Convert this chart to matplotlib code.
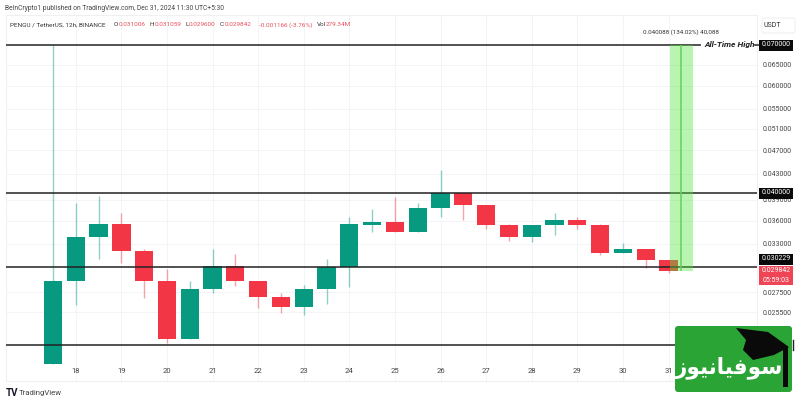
import matplotlib
matplotlib.use('Agg')
import matplotlib.pyplot as plt
from matplotlib.patches import FancyBboxPatch, Polygon, Rectangle

plt.rcParams['font.family'] = ['Roboto', 'DejaVu Sans']

# candles, 12h each, first one is the second half of the 17th
opens = [0.02095, 0.02868, 0.03383, 0.03558, 0.03209, 0.02863, 0.02303, 0.02786, 0.03041, 0.02863,
         0.02700, 0.02599, 0.02786, 0.03026, 0.03548, 0.03589, 0.03456, 0.03775, 0.03995, 0.03823,
         0.03540, 0.03391, 0.03544, 0.03612, 0.03540, 0.03192, 0.03233, 0.031006]
highs = [0.07000, 0.03856, 0.03955, 0.03709, 0.03237, 0.03001, 0.02868, 0.03237, 0.03174, 0.02863,
         0.02741, 0.02825, 0.03117, 0.03649, 0.03765, 0.03944, 0.03856, 0.04363, 0.04000, 0.03823,
         0.03562, 0.03544, 0.03713, 0.03649, 0.03554, 0.03315, 0.03240, 0.031059]
lows = [0.02095, 0.02619, 0.03117, 0.03070, 0.02689, 0.02269, 0.02303, 0.02741, 0.02814, 0.02593,
        0.02544, 0.02522, 0.02629, 0.02807, 0.03456, 0.03456, 0.03456, 0.03657, 0.03612, 0.03495,
        0.03332, 0.03324, 0.03413, 0.03487, 0.03161, 0.03192, 0.03009, 0.029600]
closes = [0.02868, 0.03383, 0.03558, 0.03209, 0.02863, 0.02303, 0.02786, 0.03041, 0.02868, 0.02700,
          0.02599, 0.02786, 0.03026, 0.03558, 0.03589, 0.03456, 0.03775, 0.03995, 0.03823, 0.03540,
          0.03391, 0.03544, 0.03612, 0.03540, 0.03192, 0.03233, 0.03101, 0.029842]

day_labels = ['18', '19', '20', '21', '22', '23', '24', '25', '26', '27', '28', '29', '30', '31']
day_ticks = [1, 3, 5, 7, 9, 11, 13, 15, 17, 19, 21, 23, 25, 27]
price_ticks = [0.065, 0.06, 0.055, 0.051, 0.047, 0.043, 0.039, 0.036, 0.033, 0.0275, 0.0255]
level_lines = [0.07, 0.04, 0.030229, 0.0225]
range_low = 0.029842
range_high = 0.07

GREEN = '#089981'
RED = '#F23645'

fig = plt.figure(figsize=(8, 4), dpi=100)
fig.patch.set_facecolor('white')

# axes sits on the chart panel, limits worked out from the pixel positions of the levels
ax = fig.add_axes([5.5 / 800, 1 - 381 / 400, (757 - 5.5) / 800, (381 - 15) / 400])
ax.set_yscale('log')
ax.set_xlim(-2.083, 30.88)
ax.set_ylim(0.01965, 0.07843)

ax.yaxis.tick_right()
ax.set_yticks(price_ticks)
ax.set_yticklabels(['%.6f' % p for p in price_ticks], fontsize=5.0, color='#444444')
ax.minorticks_off()
ax.set_xticks(day_ticks)
ax.set_xticklabels(day_labels, fontsize=5.5, color='#444444')
ax.tick_params(axis='both', length=0)
ax.tick_params(axis='y', pad=4)
ax.tick_params(axis='x', pad=-9.5)
ax.grid(True, color='#f2f4f8', linewidth=0.7)
ax.set_axisbelow(True)
for s in ax.spines.values():
    s.set_color('#eef0f3')
    s.set_linewidth(0.8)

# candles
for i in range(len(opens)):
    col = GREEN if closes[i] >= opens[i] else RED
    ax.vlines(i, lows[i], highs[i], color=col, linewidth=1.0, alpha=0.45, zorder=2)
    ax.bar(i, abs(closes[i] - opens[i]), bottom=min(opens[i], closes[i]), width=0.8, color=col, zorder=3)

# support / resistance levels
ax.axhline(level_lines[0], xmax=(700 - 5.5) / 751.5, color='#444444', linewidth=1.3, zorder=4)
for lv in level_lines[1:]:
    ax.axhline(lv, color='#222222', linewidth=1.1, zorder=4)

# long position box
ax.bar(27.56, range_high - range_low, bottom=range_low, width=1.0, color='#50e63e', alpha=0.4, zorder=5)
ax.vlines(27.56, range_low, range_high, color='#5fd35a', linewidth=1.1, zorder=6)

# everything else is placed in pixels on a see-through overlay
ov = fig.add_axes([0, 0, 1, 1], facecolor='none')
ov.set_xlim(0, 800)
ov.set_ylim(400, 0)
ov.axis('off')

ov.text(5, 8, 'BeInCrypto1 published on TradingView.com, Dec 31, 2024 11:30 UTC+5:30',
        fontsize=4.8, color='#444444', va='center')

hdr_y = 25
hdr_red = '#e8505f'
hdr_fs = 4.6
ov.text(10, hdr_y, 'PENGU / TetherUS, 12h, BINANCE', fontsize=hdr_fs, color='#333333', va='center')
for lab, lx, val, vx in [('O', 114, '0.031006', 119), ('H', 150, '0.031059', 155),
                         ('L', 185, '0.029600', 189), ('C', 220, '0.029842', 225)]:
    ov.text(lx, hdr_y, lab, fontsize=hdr_fs, color='#333333', va='center')
    ov.text(vx, hdr_y, val, fontsize=hdr_fs, color=hdr_red, va='center')
ov.text(259, hdr_y, '-0.001166 (-3.76%)', fontsize=hdr_fs, color=hdr_red, va='center')
ov.text(317, hdr_y, 'Vol', fontsize=hdr_fs, color='#333333', va='center')
ov.text(326, hdr_y, '279.34M', fontsize=hdr_fs, color=hdr_red, va='center')

ov.text(681, 32, '0.040088 (134.02%) 40,088', fontsize=4.5, color='#333333', ha='center', va='center')
ov.text(704, 45, 'All-Time High', fontsize=6.0, color='#222222', style='italic', weight='bold', va='center')
ov.plot([755, 758], [45, 45], color='#333333', linewidth=1.2)

# USDT box
ov.add_patch(FancyBboxPatch((762, 18), 33, 15, boxstyle='round,pad=0,rounding_size=2',
                            facecolor='white', edgecolor='#eeeeee', linewidth=0.7))
ov.text(772, 25.5, 'USDT', fontsize=5.0, color='#333333', ha='center', va='center')

# price labels
for txt, yy in [('0.070000', 45), ('0.040000', 193), ('0.030229', 259)]:
    ov.add_patch(Rectangle((759, yy - 5.5), 34, 11, facecolor='#0a0a0a', edgecolor='none', zorder=7))
    ov.text(776, yy, txt, fontsize=5.0, color='white', ha='center', va='center', zorder=8)
ov.add_patch(Rectangle((759, 266), 34, 19, facecolor='#ef4455', edgecolor='none', zorder=7))
ov.text(776, 271, '0.029842', fontsize=5.0, color='white', ha='center', va='center', zorder=8)
ov.text(776, 280, '05:59:03', fontsize=5.0, color='white', ha='center', va='center', zorder=8)

# TradingView mark
ov.text(6, 393.5, 'TV', fontsize=7, color='#131722', weight='bold', va='center')
ov.text(19, 393.5, 'TradingView', fontsize=5.6, color='#444444', va='center')

# logo bottom right
ov.plot([792.5, 792.5], [340, 350], color='#222222', linewidth=1)
ov.add_patch(FancyBboxPatch((675, 326), 117, 66, boxstyle='round,pad=0,rounding_size=3',
                            facecolor='#2ba436', edgecolor='none', zorder=9))
cap = [(736, 328), (768, 332), (789, 347), (774, 355), (753, 360), (743, 350), (746, 340)]
ov.add_patch(Polygon(cap, closed=True, facecolor='#0a0a0a', edgecolor='none', zorder=10))
ov.add_patch(Rectangle((783, 347), 4.5, 40, facecolor='#0a0a0a', edgecolor='none', zorder=10))
# presentation forms in drawing order, matplotlib does no shaping of its own
ov.text(729, 368, '\uFEAF\uFEEE\uFEF4\uFEE7\uFE8E\uFEF4\uFED3\uFEEE\uFEB3', fontsize=15.5, color='white',
        weight='bold', ha='center', va='center', family=['DejaVu Sans'], zorder=11)

plt.savefig('out.png', dpi=100)
